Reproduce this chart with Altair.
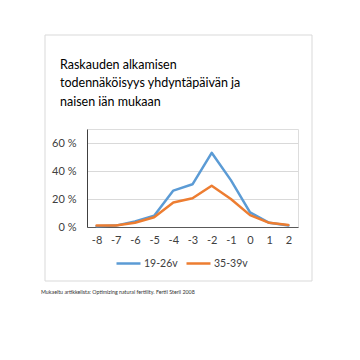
import altair as alt
import pandas as pd

days = [-8, -7, -6, -5, -4, -3, -2, -1, 0, 1, 2]
age_19_26 = [0.5, 1.0, 4.0, 8.0, 26.0, 30.5, 53.0, 33.5, 10.5, 3.0, 1.0]
age_35_39 = [1.0, 1.0, 3.0, 7.0, 17.5, 20.5, 29.5, 20.0, 8.5, 3.0, 1.5]
series_names = ["19-26v", "35-39v"]
series_colors = ["#5B9BD5", "#ED7D31"]
y_ticks = [0, 20, 40, 60]
title_lines = ["Raskauden alkamisen", "todennäköisyys yhdyntäpäivän ja", "naisen iän mukaan"]
footnote = "Mukaeltu artikkelista: Optimizing natural fertility. Fertil Steril 2008"

rows = []
for name, vals in zip(series_names, [age_19_26, age_35_39]):
    for d, v in zip(days, vals):
        rows.append({"day": d, "value": v, "series": name})
df = pd.DataFrame(rows)

FONT = "Lato"

lines = alt.Chart(df).mark_line(strokeWidth=2.5, strokeJoin="round", strokeCap="round").encode(
    x=alt.X("day:Q", scale=alt.Scale(domain=[-8.5, 2.5], nice=False),
            axis=alt.Axis(values=days, title=None, grid=False, ticks=False, labelPadding=7,
                          labelExpr="datum.value < 0 ? '-' + abs(datum.value) : '' + datum.value",
                          labelFontSize=11, labelColor="#404040", labelFont=FONT,
                          domainColor="#595959", labelFlush=False)),
    y=alt.Y("value:Q", scale=alt.Scale(domain=[0, 70], nice=False),
            axis=alt.Axis(values=y_ticks, title=None, ticks=False, labelPadding=11,
                          labelExpr="datum.value + ' %'", labelFontSize=11,
                          labelColor="#404040", labelFont=FONT, domainColor="#404040",
                          gridColor="#d9d9d9", gridWidth=1)),
    color=alt.Color("series:N", scale=alt.Scale(domain=series_names, range=series_colors),
                    legend=alt.Legend(title=None, orient="none", direction="horizontal",
                                      legendX=28, legendY=121, symbolType="stroke",
                                      symbolSize=576, symbolStrokeWidth=2.5,
                                      labelFontSize=10.5, labelFont=FONT, labelColor="#404040",
                                      columnPadding=3, labelOffset=2, padding=0)),
)

frame = alt.Chart().mark_rect(fill=None, stroke="#d9d9d9", strokeWidth=1).encode(
    x=alt.value(-42), x2=alt.value(225), y=alt.value(-94), y2=alt.value(152)
)

title = alt.Chart().mark_text(
    align="left", baseline="alphabetic", fontSize=12.5, font=FONT, color="#000000",
    lineBreak="\n", lineHeight=18.7
).encode(x=alt.value(-27), y=alt.value(-60.5), text=alt.value("\n".join(title_lines)))

foot = alt.Chart().mark_text(
    align="left", baseline="middle", fontSize=5.3, font=FONT, color="#333333"
).encode(x=alt.value(-46), y=alt.value(163), text=alt.value(footnote))

chart = alt.layer(frame, lines, title, foot).properties(
    width=211, height=98,
    autosize=alt.AutoSizeParams(type="none"),
    padding={"left": 79, "top": 121, "right": 50, "bottom": 120},
).configure_view(stroke=None).configure(background="white")

chart.save("out.html", embed_options={"renderer": "svg", "actions": False})
